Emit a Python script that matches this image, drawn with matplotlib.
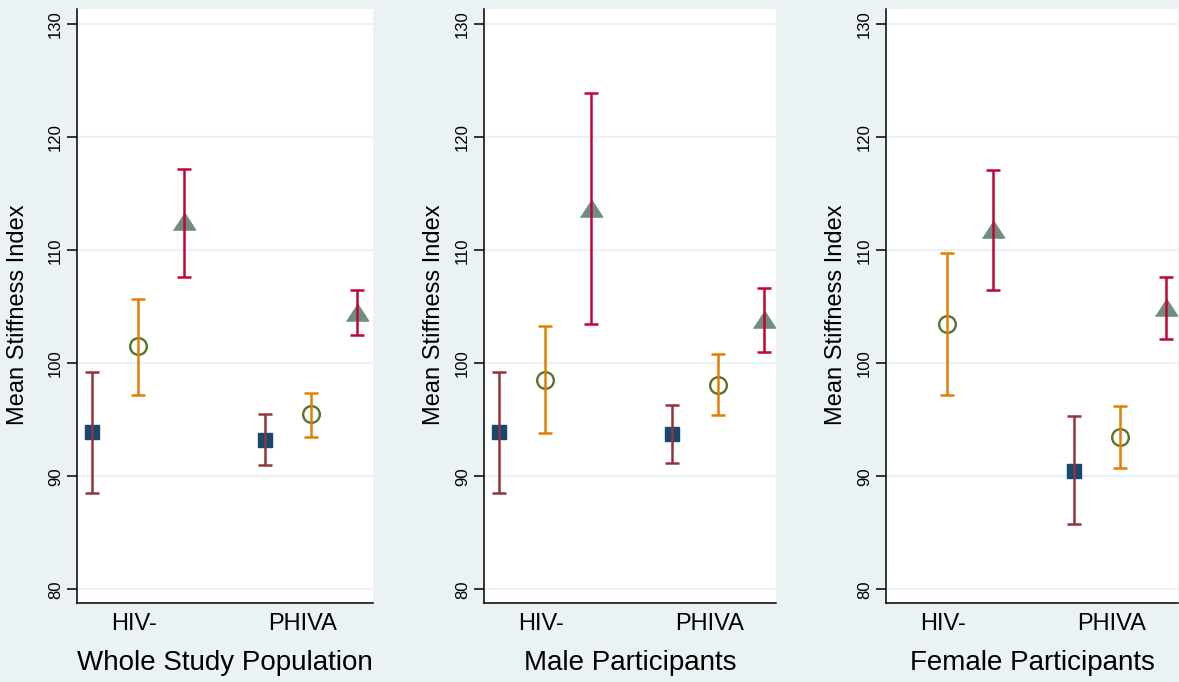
import numpy as np
import matplotlib.pyplot as plt

plt.rcParams['font.family'] = ['Liberation Sans', 'DejaVu Sans']

# panel titles and group labels
panels = ['Whole Study Population', 'Male Participants', 'Female Participants']
groups = ['HIV-', 'PHIVA']

# means and 95% CI per panel: [HIV-, PHIVA]
sq_mean = [[93.9, 93.2], [93.9, 93.7], [np.nan, 90.5]]
sq_lo = [[88.5, 91.0], [88.5, 91.2], [np.nan, 85.8]]
sq_hi = [[99.2, 95.5], [99.2, 96.3], [np.nan, 95.3]]

ci_mean = [[101.5, 95.5], [98.5, 98.1], [103.5, 93.5]]
ci_lo = [[97.2, 93.5], [93.8, 95.4], [97.2, 90.7]]
ci_hi = [[105.65, 97.4], [103.3, 100.8], [109.8, 96.2]]

tr_mean = [[112.6, 104.5], [113.7, 103.9], [111.9, 105.0]]
tr_lo = [[107.6, 102.5], [103.5, 101.0], [106.5, 102.15]]
tr_hi = [[117.2, 106.5], [123.9, 106.7], [117.1, 107.65]]

bg = '#EAF2F3'
navy, maroon = '#1A476F', '#90353B'
green, orange = '#55752F', '#E37E00'
teal, cranberry = '#6E8E84', '#C10534'

W, H = 1179, 682
fig = plt.figure(figsize=(W / 100, H / 100), dpi=100, facecolor=bg)

ax_left = [77, 484, 886]
ax_width = [296, 292, 292]
ylab_x = [18.5, 434, 836]
top, bottom = 9, 603

# x layout: offsets within each group
group_start = np.array([0.0, 3.77])
tick_pos = [0.91, 4.57]
tri = [(-1, -0.773), (1, -0.773), (0, 0.773)]

series = [
    (sq_mean, sq_lo, sq_hi, 0, dict(marker='s', ms=9.6, color=navy, mec=navy), maroon),
    (ci_mean, ci_lo, ci_hi, 1, dict(marker='o', ms=12, mfc='white', mec=green, mew=1.7), orange),
    (tr_mean, tr_lo, tr_hi, 2, dict(marker=tri, ms=16, color=teal, mec=teal), cranberry),
]

for p, title in enumerate(panels):
    ax = fig.add_axes([ax_left[p] / W, (H - bottom) / H,
                       ax_width[p] / W, (bottom - top) / H])
    ax.set_facecolor('white')
    for mean, lo, hi, off, mstyle, ecol in series:
        x = group_start + off
        m = np.array(mean[p])
        l = np.array(lo[p])
        h = np.array(hi[p])
        ax.plot(x, m, ls='none', zorder=3, **mstyle)
        ax.errorbar(x, m, yerr=[m - l, h - m], fmt='none', ecolor=ecol,
                    elinewidth=1.8, capsize=4.7, capthick=1.8, zorder=4)

    ax.set_xlim(-0.326, -0.326 + 6.436 * ax_width[p] / 296)
    ax.set_ylim(78.79, 131.35)
    ax.set_yticks([80, 90, 100, 110, 120, 130])
    ax.set_xticks(tick_pos)
    ax.set_xticklabels(groups)
    ax.grid(axis='y', color=bg, lw=1.6, zorder=0)
    ax.set_axisbelow(True)
    for s in ['top', 'right']:
        ax.spines[s].set_visible(False)
    for s in ['left', 'bottom']:
        ax.spines[s].set_linewidth(1.1)
    ax.tick_params(axis='y', direction='out', length=7.2, width=1.1, pad=3,
                   labelsize=12, labelrotation=90)
    for t in ax.get_yticklabels():
        t.set_va('center')
    ax.tick_params(axis='x', length=0, pad=7, labelsize=17)
    ax.set_ylabel('Mean Stiffness Index', fontsize=17, va='center')
    ax.yaxis.set_label_coords((ylab_x[p] - ax_left[p]) / ax_width[p],
                              (bottom - 315) / (bottom - top))
    ax.set_xlabel(title, fontsize=20, labelpad=11)

fig.savefig('out.png', dpi=100, facecolor=bg)
